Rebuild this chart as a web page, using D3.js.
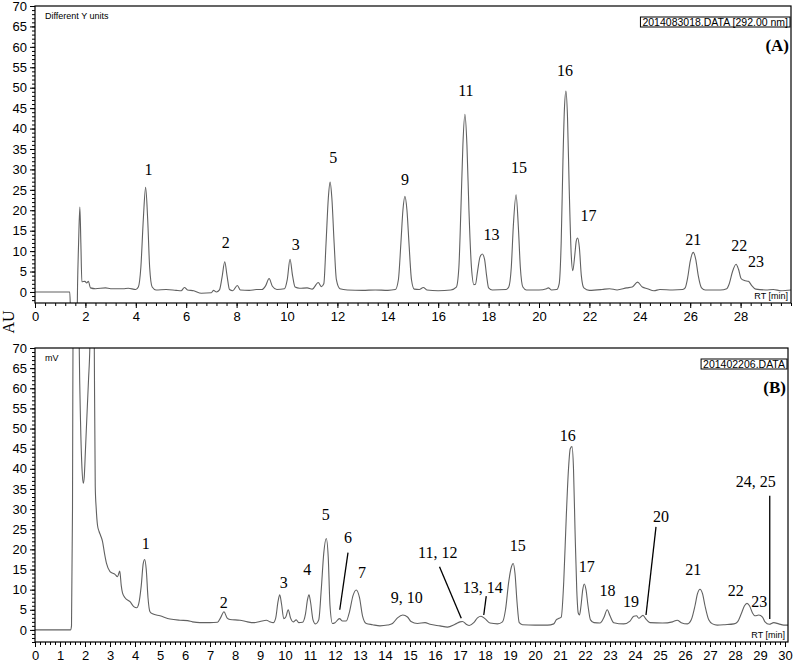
<!DOCTYPE html>
<html>
<head>
<meta charset="utf-8">
<script src="https://cdn.jsdelivr.net/npm/d3@7"></script>
<style>
  body { margin: 0; background: #fff; }
  svg { display: block; }
</style>
</head>
<body>
<svg id="chart" width="798" height="663"></svg>
<script>
// trace A (UV, 292 nm) - [retention time (min), signal]
const trace_a = [
  [0, 0], [1.38, 0], [1.42, -6], [1.67, -6], [1.69, 2], [1.73, 12], [1.78, 20.8], [1.82, 12],
  [1.86, 2.5], [1.98, 2.6], [2.05, 2.2], [2.12, 2.6], [2.2, 1.0], [2.4, 0.8], [2.8, 1.0],
  [3.0, 0.8], [3.5, 0.8], [3.7, 0.9], [4.0, 0.6], [4.1, 1.2], [4.2, 6], [4.3, 18], [4.39, 25.6],
  [4.47, 18], [4.55, 6], [4.65, 1.2], [4.8, 0.5], [5.2, 0.6], [5.6, 0.4], [5.8, 0.3], [5.93, 1.1],
  [6.05, 0.5], [6.3, 0.3], [6.6, -0.3], [7.0, -0.2], [7.08, 0.4], [7.2, 0.0], [7.32, 0.5],
  [7.42, 3.5], [7.53, 7.4], [7.62, 4], [7.72, 0.6], [7.85, 0.3], [8.03, 1.6], [8.15, 0.5],
  [8.5, 0.4], [8.8, 0.6], [9.0, 0.6], [9.15, 1.5], [9.29, 3.3], [9.42, 1.4], [9.6, 0.6],
  [9.9, 0.8], [10.01, 3], [10.12, 8.0], [10.22, 4], [10.32, 1.2], [10.5, 0.9], [10.8, 1.0],
  [11.0, 0.7], [11.24, 2.3], [11.36, 1.3], [11.46, 2], [11.55, 12], [11.64, 23], [11.71, 26.9],
  [11.78, 23], [11.87, 12], [11.96, 3], [12.1, 0.8], [12.4, 0.5], [13.0, 0.4], [13.5, 0.5],
  [14.0, 0.4], [14.3, 0.6], [14.42, 3], [14.52, 12], [14.6, 20], [14.68, 23.4], [14.76, 20],
  [14.84, 12], [14.94, 3], [15.05, 0.7], [15.25, 0.6], [15.41, 1.1], [15.55, 0.5], [16.0, 0.3],
  [16.5, 0.5], [16.72, 1.2], [16.82, 6], [16.9, 20], [16.98, 36], [17.06, 43.5], [17.14, 36],
  [17.22, 20], [17.32, 6], [17.42, 1.8], [17.48, 1.9], [17.56, 5], [17.66, 8.6], [17.75, 9.3],
  [17.84, 8], [17.92, 4], [18.0, 1.0], [18.15, 0.5], [18.7, 0.6], [18.8, 1.2], [18.9, 6],
  [18.98, 16], [19.09, 23.8], [19.18, 16], [19.26, 6], [19.36, 1.2], [19.5, 0.5], [20.0, 0.5],
  [20.3, 0.8], [20.37, 1.0], [20.5, 0.5], [20.7, 0.6], [20.8, 2], [20.88, 12], [20.95, 32],
  [21.01, 45], [21.07, 49.2], [21.13, 43], [21.2, 25], [21.28, 9], [21.34, 5.2], [21.42, 9],
  [21.48, 12.5], [21.53, 13.2], [21.6, 11], [21.68, 4], [21.78, 1.0], [22.0, 0.4], [22.5, 0.6],
  [22.8, 0.8], [23.1, 0.5], [23.48, 1.0], [23.7, 1.2], [23.91, 2.4], [24.1, 1.2], [24.3, 0.8],
  [24.56, 0.3], [24.8, 0.6], [25.3, 0.5], [25.7, 0.6], [25.8, 1.0], [25.9, 3.5], [26.0, 7.5],
  [26.12, 9.7], [26.22, 8], [26.32, 4], [26.45, 1.0], [26.6, 0.5], [27.2, 0.5], [27.45, 0.8],
  [27.55, 2.0], [27.68, 5], [27.82, 6.8], [27.92, 5.5], [28.02, 3.3], [28.15, 2.8], [28.31, 2.6],
  [28.45, 1.5], [28.6, 0.7], [29.0, 0.5], [29.3, 0.6], [29.6, 0.3], [30.0, 0.5]
];

// trace B (mV)
const trace_b = [
  [0, 0], [1.42, 0], [1.46, 1], [1.5, 30], [1.53, 90], [1.72, 110], [1.77, 70], [1.82, 52],
  [1.88, 40], [1.93, 36.4], [1.97, 38], [2.02, 45], [2.09, 55], [2.14, 62], [2.2, 72], [2.25, 110],
  [2.33, 110], [2.37, 72], [2.41, 35.6], [2.45, 30], [2.5, 26], [2.56, 24.5], [2.62, 23.5],
  [2.7, 22], [2.78, 19], [2.86, 16.5], [3.0, 14.5], [3.2, 13.8], [3.3, 13.2], [3.39, 14.6],
  [3.45, 11], [3.5, 9.2], [3.6, 8], [3.8, 7.0], [3.95, 5.8], [4.07, 5.5], [4.15, 6.5], [4.25, 11],
  [4.33, 16.5], [4.39, 17.5], [4.45, 15], [4.52, 8], [4.6, 4.5], [4.7, 4.0], [5.0, 3.5],
  [5.4, 2.7], [5.8, 2.4], [6.1, 2.3], [6.3, 2.0], [6.6, 1.8], [7.0, 1.8], [7.3, 1.9], [7.42, 3],
  [7.56, 4.5], [7.68, 3], [7.8, 2.6], [8.2, 2.4], [8.5, 2.0], [8.73, 1.8], [9.0, 2.1], [9.26, 2.4],
  [9.4, 2.0], [9.53, 1.8], [9.63, 3], [9.72, 7], [9.79, 8.7], [9.86, 6.5], [9.95, 2.8],
  [10.03, 3.2], [10.13, 5.0], [10.22, 3.0], [10.33, 2.0], [10.45, 2.5], [10.55, 1.8], [10.7, 1.9],
  [10.82, 4], [10.9, 7.5], [10.96, 8.7], [11.02, 7], [11.12, 2.5], [11.22, 1.5], [11.35, 2.5],
  [11.45, 10], [11.55, 19], [11.65, 22.7], [11.73, 18], [11.8, 6], [11.9, 1.6], [12.0, 1.8],
  [12.18, 2.8], [12.3, 2.2], [12.45, 2.2], [12.58, 4.5], [12.72, 8.5], [12.85, 9.9], [12.98, 8],
  [13.1, 3.5], [13.25, 1.6], [13.5, 1.3], [13.8, 1.0], [14.1, 1.2], [14.3, 1.6], [14.5, 3.0],
  [14.71, 3.7], [14.9, 3.2], [15.04, 2.1], [15.3, 1.6], [15.6, 1.8], [15.8, 1.4], [16.2, 1.0],
  [16.5, 0.7], [16.8, 1.4], [17.0, 2.0], [17.1, 2.1], [17.25, 1.4], [17.37, 1.1], [17.55, 1.8],
  [17.7, 3.0], [17.84, 3.4], [18.0, 2.8], [18.2, 1.7], [18.5, 1.5], [18.7, 2.0], [18.82, 5],
  [18.95, 12], [19.05, 15.5], [19.13, 16.5], [19.2, 14], [19.28, 7], [19.37, 1.8], [19.5, 1.3],
  [20.0, 1.2], [20.5, 1.2], [20.75, 1.5], [20.85, 2.5], [20.96, 2.9], [21.05, 3.2], [21.15, 12],
  [21.25, 28], [21.34, 40], [21.41, 45], [21.48, 45.5], [21.54, 40], [21.6, 25], [21.67, 10],
  [21.73, 4.2], [21.78, 3.7], [21.84, 6], [21.91, 10], [21.97, 11.4], [22.04, 10], [22.12, 6],
  [22.22, 2.5], [22.36, 1.8], [22.6, 1.7], [22.75, 3], [22.89, 5.0], [23.0, 3.5], [23.15, 1.8],
  [23.55, 1.5], [23.8, 2.2], [23.95, 3.4], [24.06, 3.5], [24.15, 2.9], [24.32, 3.6], [24.45, 2.6],
  [24.6, 1.8], [25.1, 1.7], [25.5, 2.0], [25.69, 2.4], [25.85, 1.8], [26.1, 1.5], [26.25, 2.5],
  [26.4, 6], [26.5, 9], [26.6, 10.1], [26.7, 9], [26.8, 6], [26.95, 2.5], [27.1, 1.5],
  [27.29, 1.2], [27.6, 1.3], [27.96, 1.5], [28.1, 2.0], [28.25, 4], [28.38, 6], [28.48, 6.6],
  [28.58, 6], [28.7, 4.2], [28.8, 3.5], [28.95, 3.7], [29.1, 3.2], [29.2, 2.0], [29.37, 1.4],
  [29.55, 1.8], [29.75, 1.5], [29.95, 1.2], [30.2, 1.2]
];

// peak labels: [text, rt, value at text baseline]
const peaks_a = [
  ["1", 4.5, 28.7], ["2", 7.57, 10.7], ["3", 10.35, 10.3], ["5", 11.84, 31.6],
  ["9", 14.68, 26.3], ["11", 17.1, 48.0], ["13", 18.12, 12.8], ["15", 19.21, 29.2],
  ["16", 21.03, 52.8], ["17", 21.96, 17.3], ["21", 26.12, 11.5], ["22", 27.95, 10.1],
  ["23", 28.61, 6.2]
];
const peaks_b = [
  ["1", 4.43, 20.2], ["2", 7.55, 5.4], ["3", 9.95, 10.3], ["4", 10.89, 13.6],
  ["5", 11.63, 27.3], ["6", 12.52, 21.6], ["7", 13.08, 12.8], ["9, 10", 14.87, 6.6],
  ["11, 12", 16.11, 17.8], ["13, 14", 17.91, 9.1], ["15", 19.31, 19.7], ["16", 21.31, 46.9],
  ["17", 22.07, 14.5], ["18", 22.9, 8.3], ["19", 23.84, 5.8], ["20", 25.04, 26.9],
  ["21", 26.33, 13.6], ["22", 28.03, 8.3], ["23", 28.97, 5.8], ["24, 25", 28.83, 35.6]
];
// leader lines in panel B: [rt1, v1, rt2, v2]
const leaders_b = [
  [12.52, 19.2, 12.19, 5.0],
  [16.18, 15.7, 17.05, 2.9],
  [18.05, 8.4, 17.95, 3.7],
  [24.84, 25.6, 24.44, 3.7],
  [29.39, 33.3, 29.39, 2.7]
];

const y_ticks = [0, 5, 10, 15, 20, 25, 30, 35, 40, 45, 50, 55, 60, 65, 70];
const x_ticks_a = [0, 2, 4, 6, 8, 10, 12, 14, 16, 18, 20, 22, 24, 26, 28];
const x_ticks_b = d3.range(0, 31, 1);

const svg = d3.select("#chart");
const sans = "Liberation Sans, Arial, sans-serif";
const serif = "Liberation Serif, Times New Roman, serif";

function drawPanel(p) {
  const x = d3.scaleLinear().domain(p.x_domain).range([p.left, p.right]);
  const y = d3.scaleLinear().domain(p.y_domain).range([p.bottom, p.top]);
  const g = svg.append("g");

  g.append("clipPath").attr("id", p.id + "_clip")
    .append("rect")
    .attr("x", p.left).attr("y", p.top)
    .attr("width", p.right - p.left).attr("height", p.bottom - p.top);

  // minor ticks
  const y_minor = d3.range(Math.ceil(p.y_domain[0]), 71, 1);
  g.append("g")
    .attr("transform", `translate(${p.left},0)`)
    .call(d3.axisLeft(y).tickValues(y_minor).tickSize(3).tickFormat(""))
    .call(a => a.select(".domain").remove());
  g.append("g")
    .attr("transform", `translate(${p.left},0)`)
    .call(d3.axisLeft(y).tickValues(y_ticks).tickSize(5).tickPadding(3))
    .call(a => a.select(".domain").remove())
    .selectAll("text").attr("font-family", sans).attr("font-size", 13);

  const x_minor = d3.range(0, p.x_domain[1] + 0.001, p.x_minor).map(v => Math.round(v * 100) / 100);
  g.append("g")
    .attr("transform", `translate(0,${p.bottom})`)
    .call(d3.axisBottom(x).tickValues(x_minor).tickSize(3).tickFormat(""))
    .call(a => a.select(".domain").remove());
  g.append("g")
    .attr("transform", `translate(0,${p.bottom})`)
    .call(d3.axisBottom(x).tickValues(p.x_ticks).tickSize(5).tickPadding(4))
    .call(a => a.select(".domain").remove())
    .selectAll("text").attr("font-family", sans).attr("font-size", 13);

  // trace
  g.append("path")
    .datum(p.trace)
    .attr("clip-path", `url(#${p.id}_clip)`)
    .attr("fill", "none")
    .attr("stroke", "#616161")
    .attr("stroke-width", 1.1)
    .attr("d", d3.line().x(d => x(d[0])).y(d => y(d[1])).curve(d3.curveMonotoneX));

  // frame
  g.append("rect")
    .attr("x", p.left).attr("y", p.top)
    .attr("width", p.right - p.left).attr("height", p.bottom - p.top)
    .attr("fill", "none").attr("stroke", "#000").attr("stroke-width", 1.2);

  // leader lines
  g.selectAll(".leader").data(p.leaders).enter().append("line")
    .attr("class", "leader")
    .attr("x1", d => x(d[0])).attr("y1", d => y(d[1]))
    .attr("x2", d => x(d[2])).attr("y2", d => y(d[3]))
    .attr("stroke", "#000").attr("stroke-width", 1.3);

  // peak numbers
  g.selectAll(".peak").data(p.peaks).enter().append("text")
    .attr("class", "peak")
    .attr("x", d => x(d[1])).attr("y", d => y(d[2]))
    .attr("text-anchor", "middle")
    .attr("font-family", serif).attr("font-size", 16)
    .text(d => d[0]);

  // corner texts
  g.append("text").attr("x", p.left + 10).attr("y", p.top + 13)
    .attr("font-family", sans).attr("font-size", 9).text(p.unit);
  g.append("text").attr("x", p.right - 3).attr("y", p.bottom - 4)
    .attr("text-anchor", "end").attr("font-family", sans).attr("font-size", 9).text("RT [min]");

  const file = g.append("text").attr("x", p.right - 3).attr("y", p.top + 20)
    .attr("text-anchor", "end").attr("font-family", sans).attr("font-size", 10.5).text(p.file);
  const bb = file.node().getBBox();
  g.insert("rect", () => file.node())
    .attr("x", bb.x - 2).attr("y", bb.y + 1).attr("width", bb.width + 4).attr("height", bb.height - 2)
    .attr("fill", "#fff").attr("stroke", "#000").attr("stroke-width", 1);

  g.append("text").attr("x", p.right - 2).attr("y", p.top + 45)
    .attr("text-anchor", "end").attr("font-family", serif).attr("font-weight", "bold")
    .attr("font-size", 17).text(p.tag);
}

drawPanel({
  id: "a", left: 35, right: 791, top: 6, bottom: 303,
  x_domain: [0, 30], y_domain: [-2.7, 70], x_ticks: x_ticks_a, x_minor: 0.4,
  trace: trace_a, peaks: peaks_a, leaders: [],
  unit: "Different Y units", file: "2014083018.DATA [292.00 nm]", tag: "(A)"
});

drawPanel({
  id: "b", left: 35, right: 788, top: 348, bottom: 642,
  x_domain: [0, 30.12], y_domain: [-3, 70], x_ticks: x_ticks_b, x_minor: 0.2,
  trace: trace_b, peaks: peaks_b, leaders: leaders_b,
  unit: "mV", file: "201402206.DATA", tag: "(B)"
});

svg.append("text")
  .attr("transform", "translate(14,322) rotate(-90)")
  .attr("text-anchor", "middle")
  .attr("font-family", serif).attr("font-size", 16)
  .text("AU");
</script>
</body>
</html>
